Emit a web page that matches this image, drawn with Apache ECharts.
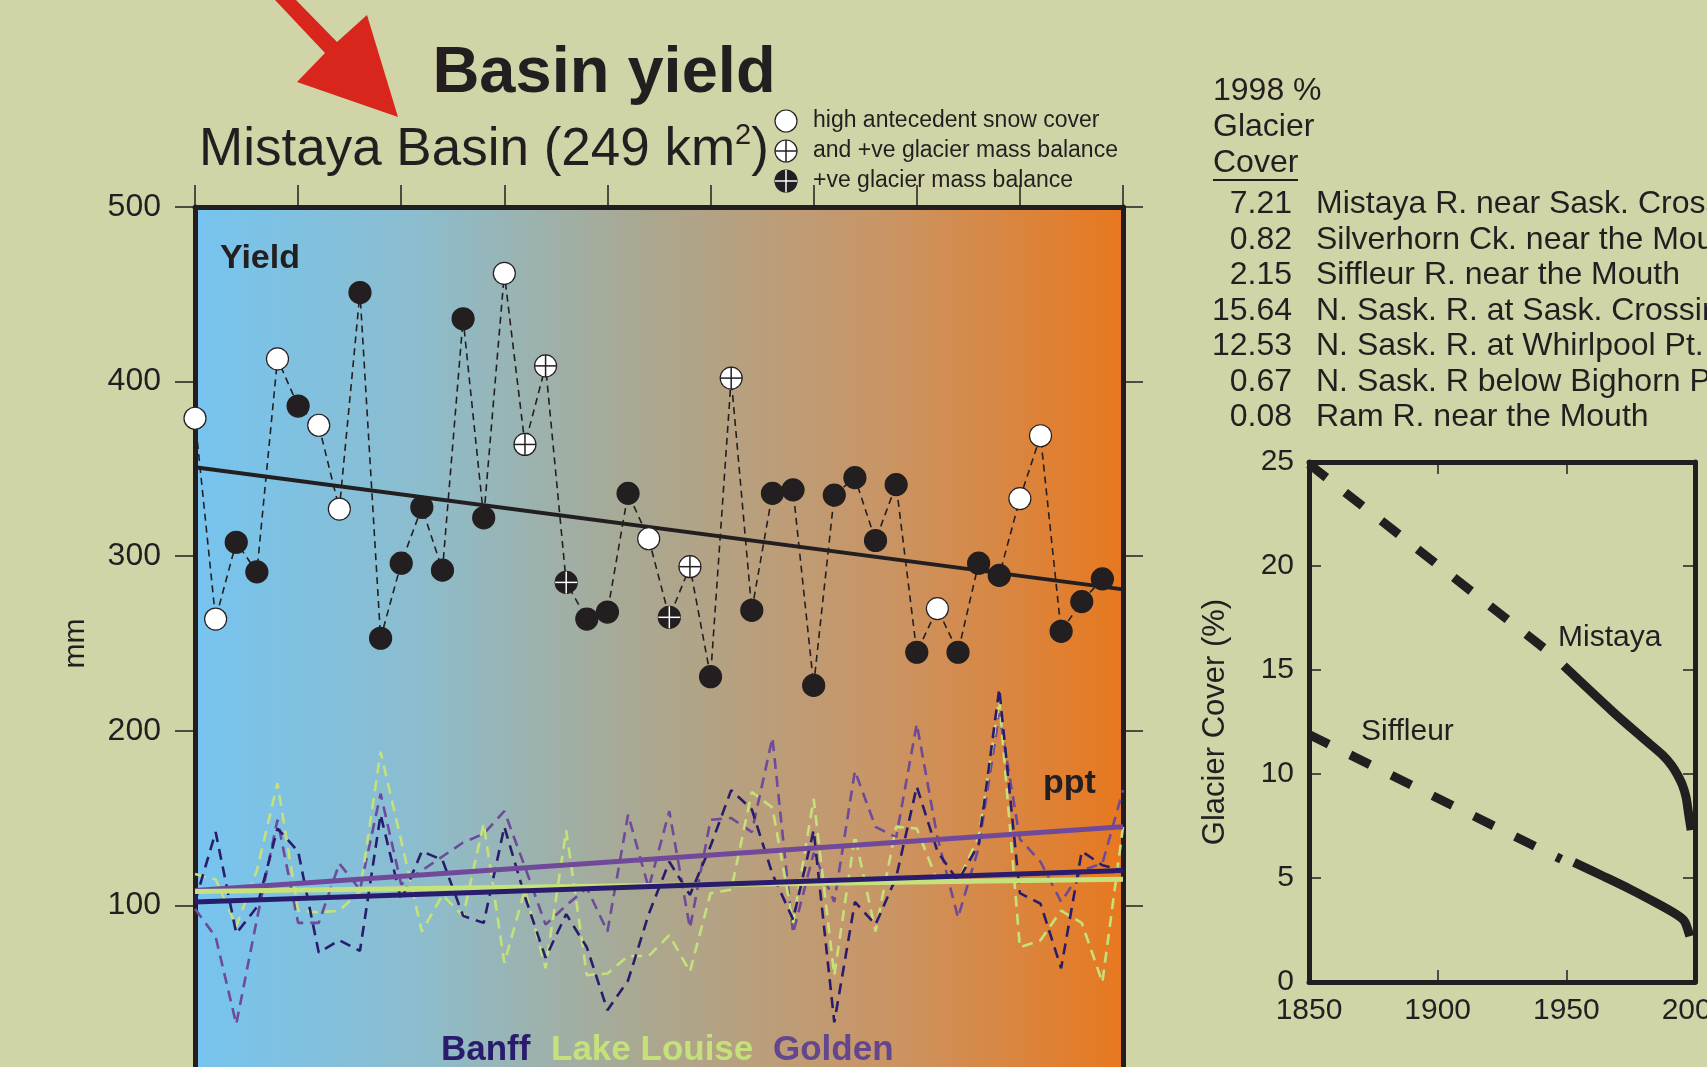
<!DOCTYPE html>
<html><head><meta charset="utf-8">
<script src="https://cdn.jsdelivr.net/npm/echarts@6/dist/echarts.min.js"></script>
<style>html,body{margin:0;padding:0;background:#d1d4a7;overflow:hidden}#c{width:1707px;height:1067px}</style>
</head><body><div id="c"></div>
<script>
const FONT = '"Liberation Sans", Arial, Helvetica, sans-serif';
const INK = '#231f20';

// ---- Mistaya basin yield (mm) ----
const yieldYears = [1950,1951,1952,1953,1954,1955,1956,1957,1958,1959,1960,1961,1962,1963,1964,1965,1966,1967,1968,1969,1970,1971,1972,1973,1974,1975,1976,1977,1978,1979,1980,1981,1982,1983,1984,1985,1986,1987,1988,1989,1990,1991,1992,1993,1994];
const yieldMm = [379,264,308,291,413,386,375,327,451,253,296,328,292,436,322,462,364,409,285,264,268,336,310,265,294,231,402,269,336,338,226,335,345,309,341,245,270,245,296,289,333,369,257,274,287];
// snow = high antecedent snow cover, both = snow and +ve mass balance, mb = +ve glacier mass balance, none = other
const pointType = ['snow','snow','none','none','snow','none','snow','snow','none','none','none','none','none','none','none','snow','both','both','mb','none','none','none','snow','mb','both','none','both','none','none','none','none','none','none','none','none','none','snow','none','none','none','snow','snow','none','none','none'];
const trendYears = [1950,1995];
const yieldTrend = [351,281];

// ---- precipitation (mm) ----
const pptYears = [1950,1951,1952,1953,1954,1955,1956,1957,1958,1959,1960,1961,1962,1963,1964,1965,1966,1967,1968,1969,1970,1971,1972,1973,1974,1975,1976,1977,1978,1979,1980,1981,1982,1983,1984,1985,1986,1987,1988,1989,1990,1991,1992,1993,1994,1995];
const banffPpt = [102,142,84,99,144,131,73,80,74,152,103,131,126,94,90,145,105,70,95,76,40,57,95,125,106,134,166,155,118,92,143,33,102,89,116,168,131,114,135,224,107,101,64,131,123,120];
const lakeLouisePpt = [118,115,88,120,170,97,96,97,108,188,137,85,106,94,147,67,109,64,143,60,61,71,71,83,62,107,109,165,156,90,161,60,140,85,145,144,114,114,139,218,76,80,97,90,56,145];
const goldenPpt = [98,82,32,92,149,90,90,124,109,164,112,120,128,136,141,154,122,89,100,110,85,152,110,154,87,149,150,142,196,84,130,102,177,145,139,204,139,93,133,210,138,125,102,120,124,166];
const banffTrend = [102,120];
const lakeLouiseTrend = [108,115];
const goldenTrend = [108.6,145];

// ---- glacier cover (%) ----
const mistayaDashYears = [1850,1948];
const mistayaDash = [24.9,15.4];
const mistayaSolidYears = [1949,1968,1980,1987.5,1991,1993,1995,1996.5,1997.5,1998.5];
const mistayaSolid = [15.2,13.0,11.7,10.9,10.4,10.0,9.5,8.9,8.1,7.3];
const siffleurDashYears = [1850,1948];
const siffleurDash = [11.9,5.9];
const siffleurSolidYears = [1953,1965,1975,1985,1991.5,1994.5,1996,1997,1998];
const siffleurSolid = [5.75,5.05,4.45,3.8,3.35,3.1,2.9,2.6,2.2];

// ---- 1998 % glacier cover table ----
const coverValues = ['7.21','0.82','2.15','15.64','12.53','0.67','0.08'];
const coverSites = ['Mistaya R. near Sask. Crossing','Silverhorn Ck. near the Mouth','Siffleur R. near the Mouth','N. Sask. R. at Sask. Crossing','N. Sask. R. at Whirlpool Pt.','N. Sask. R below Bighorn Plant','Ram R. near the Mouth'];
const legendLabels = ['high antecedent snow cover','and +ve glacier mass balance','+ve glacier mass balance'];

const BANFF = '#2a1c6c', LL = '#c4e17b', GOLD = '#6e4a9a';
const pair = (xs, ys) => xs.map((x, i) => [x, ys[i]]);

function txt(text, x, y, size, opts) {
  opts = opts || {};
  return {type:'text', x:x, y:y, z:100, silent:true, style:{
    text:text, fill:opts.color||INK, fontSize:size, fontFamily:FONT, fontWeight:opts.bold?'bold':'normal',
    textAlign:opts.align||'left', align:opts.align||'left', textVerticalAlign:'middle', verticalAlign:'middle', rich:opts.rich}};
}

const graphics = [];
// red arrow
graphics.push({type:'polygon', z:100, shape:{points:[[275,0],[296,0],[337,42],[367,15],[398,117],[297,82],[325,53]]}, style:{fill:'#d9261d'}});
graphics.push(txt('Basin yield', 604, 74, 65, {bold:true, align:'center'}));
graphics.push(txt('{a|Mistaya Basin (249 km}{s|2}{a|)}', 199, 150, 53, {rich:{a:{fontSize:53, fontFamily:FONT, fill:INK, color:INK, lineHeight:58}, s:{fontSize:29, fontFamily:FONT, fill:INK, color:INK, verticalAlign:'top', lineHeight:52}}}));
// legend icons
[121,151,181].forEach((cy, k) => {
  const white = k < 2;
  graphics.push({type:'circle', z:100, shape:{cx:786, cy:cy, r:11}, style:{fill:white?'#fff':INK, stroke:INK, lineWidth:1.2}});
  if (k > 0) {
    const c = white ? INK : '#fff';
    graphics.push({type:'line', z:101, shape:{x1:775, y1:cy, x2:797, y2:cy}, style:{stroke:c, lineWidth:1.5}});
    graphics.push({type:'line', z:101, shape:{x1:786, y1:cy-11, x2:786, y2:cy+11}, style:{stroke:c, lineWidth:1.5}});
  }
  graphics.push(txt(legendLabels[k], 813, cy, 23));
});
graphics.push(txt('Yield', 220, 259, 34, {bold:true}));
graphics.push(txt('ppt', 1043, 784, 34, {bold:true}));
graphics.push(txt('Banff', 441, 1050, 35, {bold:true, color:BANFF}));
graphics.push(txt('Lake Louise', 551, 1050, 35, {bold:true, color:LL}));
graphics.push(txt('Golden', 773, 1050, 35, {bold:true, color:'#64468f'}));
// table
graphics.push(txt('1998 %', 1213, 91, 32));
graphics.push(txt('Glacier', 1213, 127, 32));
graphics.push(txt('Cover', 1213, 163, 32));
graphics.push({type:'line', z:100, shape:{x1:1213, y1:180, x2:1298, y2:180}, style:{stroke:INK, lineWidth:2}});
coverValues.forEach((v, k) => {
  const y = 204.5 + k * 35.5;
  graphics.push(txt(v, 1292, y, 32, {align:'right'}));
  graphics.push(txt(coverSites[k], 1316, y, 32));
});
graphics.push(txt('Mistaya', 1558, 638, 30));
graphics.push(txt('Siffleur', 1361, 732, 30));

const el = document.getElementById('c');
const chart = echarts.init(el, null, {renderer:'canvas', width:1707, height:1067});

const axLine = {onZero:false, lineStyle:{color:INK, width:5}};
const noSplit = {show:false};
const outTick = (len) => ({show:true, inside:false, length:len, lineStyle:{color:INK, width:1.5}});
const inTick = {show:true, inside:true, length:12, lineStyle:{color:INK, width:1.5}};
const plain = (v) => String(v);

function dashed(name, ys, color, z) {
  return {type:'line', name:name, xAxisIndex:0, yAxisIndex:0, data:pair(pptYears, ys), symbol:'none', z:z,
    lineStyle:{color:color, width:2.6, type:[11,7]}, silent:true};
}
function trend(name, ys, color, w, z) {
  return {type:'line', name:name, xAxisIndex:0, yAxisIndex:0, data:pair(trendYears, ys), symbol:'none', z:z,
    lineStyle:{color:color, width:w}, silent:true};
}

const option = {
  backgroundColor:'#d1d4a7',
  animation:false,
  textStyle:{fontFamily:FONT},
  grid:[
    {left:195, top:207, width:928, height:873, show:true, borderWidth:0, outerBoundsMode:'none', containLabel:false,
     backgroundColor:{type:'linear', x:0, y:0, x2:1, y2:0, colorStops:[
       {offset:0, color:'#76c4f0'},{offset:0.24, color:'#8cbdce'},{offset:0.48, color:'#aaa891'},
       {offset:0.74, color:'#c99566'},{offset:1, color:'#e8781f'}]}},
    {left:1309, top:462, width:386, height:520, show:false, outerBoundsMode:'none', containLabel:false}
  ],
  xAxis:[
    {gridIndex:0, type:'value', min:1950, max:1995, interval:5, position:'bottom', axisLine:axLine, axisTick:{show:false}, axisLabel:{show:false}, splitLine:noSplit},
    {gridIndex:0, type:'value', min:1950, max:1995, interval:5, position:'top', axisLine:axLine, axisTick:outTick(22), axisLabel:{show:false}, splitLine:noSplit},
    {gridIndex:1, type:'value', min:1850, max:2000, interval:50, position:'bottom', axisLine:axLine, axisTick:inTick,
     axisLabel:{fontSize:30, color:INK, margin:14, fontFamily:FONT, formatter:plain}, splitLine:noSplit},
    {gridIndex:1, type:'value', min:1850, max:2000, interval:50, position:'top', axisLine:axLine, axisTick:inTick, axisLabel:{show:false}, splitLine:noSplit}
  ],
  yAxis:[
    {gridIndex:0, type:'value', min:0, max:500, interval:100, position:'left', axisLine:axLine, axisTick:outTick(20),
     axisLabel:{fontSize:32, color:INK, margin:34, fontFamily:FONT, formatter:plain}, splitLine:noSplit,
     name:'mm', nameLocation:'middle', nameRotate:90, nameGap:104, nameTextStyle:{fontSize:30, color:INK, fontFamily:FONT}},
    {gridIndex:0, type:'value', min:0, max:500, interval:100, position:'right', axisLine:axLine, axisTick:outTick(20), axisLabel:{show:false}, splitLine:noSplit},
    {gridIndex:1, type:'value', min:0, max:25, interval:5, position:'left', axisLine:axLine, axisTick:inTick,
     axisLabel:{fontSize:30, color:INK, margin:15, fontFamily:FONT, formatter:plain}, splitLine:noSplit,
     name:'Glacier Cover (%)', nameLocation:'middle', nameRotate:90, nameGap:78, nameTextStyle:{fontSize:31, color:INK, fontFamily:FONT}},
    {gridIndex:1, type:'value', min:0, max:25, interval:5, position:'right', axisLine:axLine, axisTick:inTick, axisLabel:{show:false}, splitLine:noSplit}
  ],
  series:[
    dashed('Golden', goldenPpt, GOLD, 2),
    dashed('Lake Louise', lakeLouisePpt, LL, 3),
    dashed('Banff', banffPpt, BANFF, 4),
    trend('Golden trend', goldenTrend, '#71499b', 5, 5),
    trend('Lake Louise trend', lakeLouiseTrend, '#c6e27d', 5, 5),
    trend('Banff trend', banffTrend, BANFF, 5, 6),
    {type:'line', name:'Yield', xAxisIndex:0, yAxisIndex:0, data:pair(yieldYears, yieldMm), symbol:'none', z:7,
     lineStyle:{color:INK, width:1.6, type:[7,5]}, silent:true},
    trend('Yield trend', yieldTrend, INK, 4, 8),
    {type:'custom', name:'Yield points', xAxisIndex:0, yAxisIndex:0, data:pair(yieldYears, yieldMm), z:9, silent:true,
     renderItem:function(params, api){
       const p = api.coord([api.value(0), api.value(1)]);
       const t = pointType[params.dataIndex];
       const r = 11;
       const white = (t === 'snow' || t === 'both');
       const kids = [{type:'circle', shape:{cx:p[0], cy:p[1], r:r}, style:{fill:white?'#fff':INK, stroke:INK, lineWidth:1.2}}];
       if (t === 'both' || t === 'mb') {
         const c = white ? INK : '#fff';
         kids.push({type:'line', shape:{x1:p[0]-r, y1:p[1], x2:p[0]+r, y2:p[1]}, style:{stroke:c, lineWidth:1.5}});
         kids.push({type:'line', shape:{x1:p[0], y1:p[1]-r, x2:p[0], y2:p[1]+r}, style:{stroke:c, lineWidth:1.5}});
       }
       return {type:'group', children:kids};
     }},
    {type:'line', name:'Mistaya (est.)', xAxisIndex:2, yAxisIndex:2, data:pair(mistayaDashYears, mistayaDash), symbol:'none',
     lineStyle:{color:INK, width:9, type:[22,24], cap:'butt'}, silent:true},
    {type:'line', name:'Mistaya', xAxisIndex:2, yAxisIndex:2, data:pair(mistayaSolidYears, mistayaSolid), symbol:'none', smooth:0.3,
     lineStyle:{color:INK, width:9}, silent:true},
    {type:'line', name:'Siffleur (est.)', xAxisIndex:2, yAxisIndex:2, data:pair(siffleurDashYears, siffleurDash), symbol:'none',
     lineStyle:{color:INK, width:9, type:[22,24], cap:'butt'}, silent:true},
    {type:'line', name:'Siffleur', xAxisIndex:2, yAxisIndex:2, data:pair(siffleurSolidYears, siffleurSolid), symbol:'none', smooth:0.3,
     lineStyle:{color:INK, width:9}, silent:true}
  ],
  graphic:graphics
};
chart.setOption(option);
</script>
</body></html>
